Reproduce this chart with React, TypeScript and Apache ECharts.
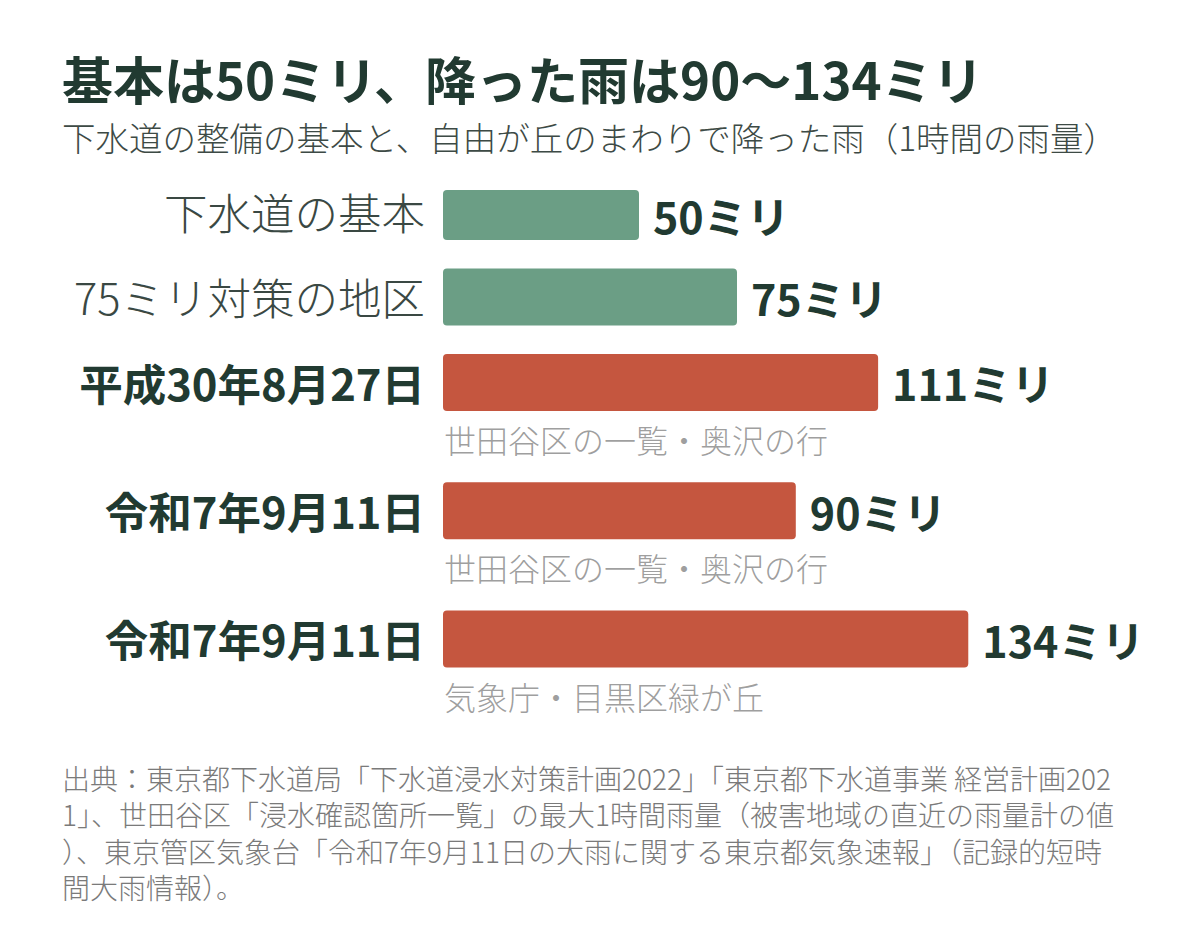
import React, { useEffect, useRef } from "react";
import * as echarts from "echarts";

const categories = ["下水道の基本", "75ミリ対策の地区", "平成30年8月27日", "令和7年9月11日", "令和7年9月11日"];
const values = [50, 75, 111, 90, 134];
const notes = ["", "", "世田谷区の一覧・奥沢の行", "世田谷区の一覧・奥沢の行", "気象庁・目黒区緑が丘"];
const kinds = ["plan", "plan", "rain", "rain", "rain"];
const unit = "ミリ";

const titleText = "基本は50ミリ、降った雨は90〜134ミリ";
const subtitleText = "下水道の整備の基本と、自由が丘のまわりで降った雨（1時間の雨量）";
const sourceLines = [
  "出典：東京都下水道局「下水道浸水対策計画2022」「東京都下水道事業 経営計画202",
  "1」、世田谷区「浸水確認箇所一覧」の最大1時間雨量（被害地域の直近の雨量計の値",
  "）、東京管区気象台「令和7年9月11日の大雨に関する東京都気象速報」（記録的短時",
  "間大雨情報）。",
];

const FONT = '"Noto Sans CJK JP", "Noto Sans", sans-serif';
const DARK = "#213a31";
const GREEN = "#6b9e85";
const RED = "#c5563f";

export default function App() {
  const ref = useRef<HTMLDivElement>(null);
  useEffect(() => {
    if (!ref.current) return;
    const chart = echarts.init(ref.current, null, { renderer: "svg" });

    // build slots: bar row, optional note row, gap row
    const slotNames: string[] = [];
    const barData: any[] = [];
    const noteData: any[] = [];
    categories.forEach((c, i) => {
      slotNames.push(c);
      barData.push({
        value: values[i],
        itemStyle: { color: kinds[i] === "plan" ? GREEN : RED },
      });
      noteData.push(null);
      if (notes[i]) {
        slotNames.push("");
        barData.push(null);
        noteData.push({ value: 0, note: notes[i] });
      }
      if (i < categories.length - 1) {
        slotNames.push("");
        barData.push(null);
        noteData.push(null);
      }
    });
    const nSlots = slotNames.length;
    const slotH = 42.76;

    const option: any = {
      animation: false,
      backgroundColor: "#ffffff",
      textStyle: { fontFamily: FONT },
      grid: { left: 435, top: 182, width: 588, height: nSlots * slotH, containLabel: false },
      xAxis: {
        type: "value",
        min: 0,
        max: 150,
        show: false,
      },
      yAxis: {
        type: "category",
        inverse: true,
        data: slotNames,
        axisLine: { show: false },
        axisTick: { show: false },
        splitLine: { show: false },
        axisLabel: {
          margin: 18,
          formatter: (v: string) => {
            if (!v) return "";
            const ci = categories.indexOf(v);
            return kinds[ci === -1 ? 2 : ci] === "plan" ? `{l|${v}}` : `{b|${v}}`;
          },
          rich: {
            l: { fontFamily: FONT, fontSize: 43.5, fontWeight: 300, color: "#3a4843" },
            b: { fontFamily: FONT, fontSize: 43.5, fontWeight: "bold", color: DARK },
          },
        },
      },
      series: [
        {
          type: "bar",
          data: barData,
          barWidth: 57,
          itemStyle: { borderRadius: 4 },
          label: {
            show: true,
            position: "right",
            distance: 14,
            formatter: (p: any) => `${p.value}${unit}`,
            fontFamily: FONT,
            fontSize: 43,
            fontWeight: "bold",
            color: DARK,
          },
        },
        {
          type: "scatter",
          data: noteData,
          symbolSize: 0,
          silent: true,
          label: {
            show: true,
            position: "right",
            distance: 1,
            offset: [0, 14],
            formatter: (p: any) => (p.data && p.data.note) || "",
            fontFamily: FONT,
            fontSize: 32,
            fontWeight: 300,
            color: "#858585",
          },
        },
      ],
      graphic: [
        {
          type: "text",
          x: 54,
          y: 70,
          style: { text: titleText, font: `bold 51px ${FONT}`, fill: DARK, verticalAlign: "middle" },
        },
        {
          type: "text",
          x: 54,
          y: 128,
          style: { text: subtitleText, font: `300 33.5px ${FONT}`, fill: "#3d4a45", verticalAlign: "middle" },
        },
        ...sourceLines.map((line, i) => ({
          type: "text",
          x: 54,
          y: 770 + i * 36.3,
          style: {
            text: line,
            font: `300 28px ${FONT}`,
            fill: "#7a7a7a",
            verticalAlign: "middle",
          },
        })),
      ],
    };
    chart.setOption(option);
    return () => chart.dispose();
  }, []);
  return <div ref={ref} style={{ width: 1200, height: 936 }} />;
}
